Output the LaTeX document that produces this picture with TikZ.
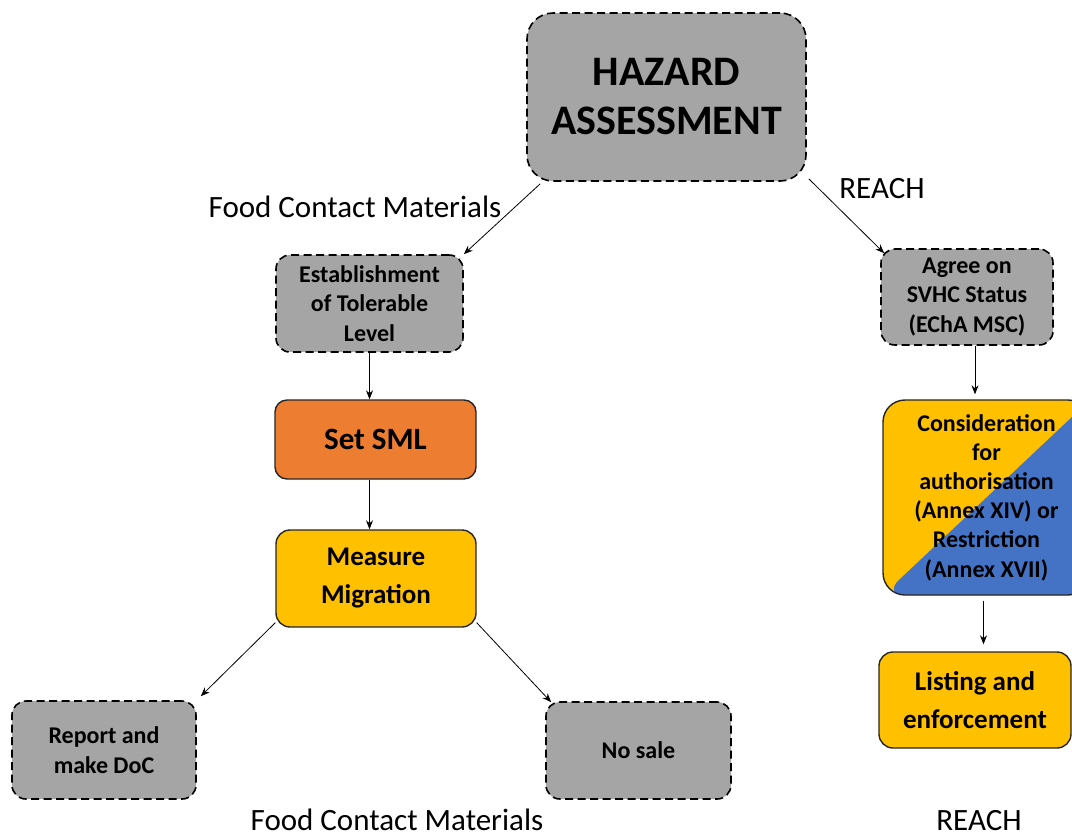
\documentclass[tikz,border=0pt]{standalone}
\usepackage{fontspec}
\setmainfont{Carlito}
\usetikzlibrary{calc,positioning,arrows.meta}
\definecolor{boxgray}{HTML}{A5A5A5}
\definecolor{smlorange}{HTML}{ED7D31}
\definecolor{migyellow}{HTML}{FFC000}
\definecolor{annexblue}{HTML}{4472C4}

\begin{document}
\begin{tikzpicture}[x=1pt,y=-1pt,
	dashbox/.style={draw=black,line width=1.6pt,dash pattern=on 8pt off 4.5pt,fill=boxgray,rounded corners=14pt,align=center,inner sep=0pt,font=\fontsize{24}{29.5}\selectfont\bfseries},
	solidbox/.style={draw=black!85,line width=1.4pt,rounded corners=14pt,align=center,inner sep=0pt,font=\fontsize{27}{38}\selectfont\bfseries},
	arr/.style={-{Stealth[length=9pt,width=7pt]},line width=0.8pt},
	lbl/.style={anchor=base,inner sep=1pt,font=\fontsize{31}{36}\selectfont}]
	\useasboundingbox (0,0) rectangle (1072,839);

	% food contact materials side
	\node[dashbox,minimum width=279pt,minimum height=168pt,rounded corners=26pt,font=\fontsize{42}{49}\selectfont\bfseries] (hazard) at (666.5,97) {HAZARD\\ASSESSMENT};
	\node[dashbox,minimum width=187pt,minimum height=97pt] (estab) at (369.5,303.5) {Establishment\\of Tolerable\\Level};
	\node[solidbox,fill=smlorange,minimum width=201pt,minimum height=79pt,rounded corners=12pt,font=\fontsize{31}{38}\selectfont\bfseries] (setsml) at (375.5,439.5) {Set SML};
	\node[solidbox,fill=migyellow,minimum width=200pt,minimum height=97pt] (measure) at (376,578.5) {Measure\\Migration};
	\node[dashbox,minimum width=184pt,minimum height=98pt] (report) at (104,750) {Report and\\make DoC};
	\node[dashbox,minimum width=185pt,minimum height=97pt] (nosale) at (638.5,750.5) {No sale};

	% REACH side
	\node[dashbox,minimum width=172pt,minimum height=96pt] (agree) at (967,297) {Agree on\\SVHC Status\\(EChA MSC)};
	\node[solidbox,fill=migyellow,minimum width=207pt,minimum height=195pt,rounded corners=22pt,font=\fontsize{24}{29.2}\selectfont\bfseries,
		path picture={\fill[annexblue] (path picture bounding box.south west) -- (path picture bounding box.north east) -- (path picture bounding box.south east) -- cycle;}] (consid) at (986.5,497.5) {Consideration\\for\\authorisation\\(Annex XIV) or\\Restriction\\(Annex XVII)};
	\node[solidbox,fill=migyellow,minimum width=192pt,minimum height=96pt] (listing) at (975,700) {Listing and\\enforcement};

	\draw[arr] ([xshift=14pt,yshift=-2pt]hazard.south west) -- (estab.north east);
	\draw[arr] ([xshift=2pt,yshift=3pt]hazard.south east) -- ([xshift=4pt,yshift=-5pt]agree.north west);
	\draw[arr] (estab.south) -- (estab.south |- setsml.north);
	\draw[arr] (estab.south |- setsml.south) -- (estab.south |- measure.north);
	\draw[arr] ([yshift=5pt]measure.south west) -- ([xshift=4pt,yshift=4pt]report.north east);
	\draw[arr] ([yshift=5pt]measure.south east) -- ([xshift=6pt,yshift=-1pt]nosale.north west);
	\draw[arr] ([xshift=8pt]agree.south) -- ([xshift=8pt,yshift=5pt]agree.south |- consid.north);
	\draw[arr] ([xshift=-3pt,yshift=-5pt]consid.south) -- ([xshift=-3pt,yshift=7pt]consid.south |- listing.north);

	\node[lbl] (fcmtop) at (355,217) {Food Contact Materials};
	\node[lbl] (reachtop) at (882,198) {REACH};
	\node[lbl] (fcmbot) at (397,830) {Food Contact Materials};
	\node[lbl] (reachbot) at (979,830) {REACH};
\end{tikzpicture}
\end{document}
